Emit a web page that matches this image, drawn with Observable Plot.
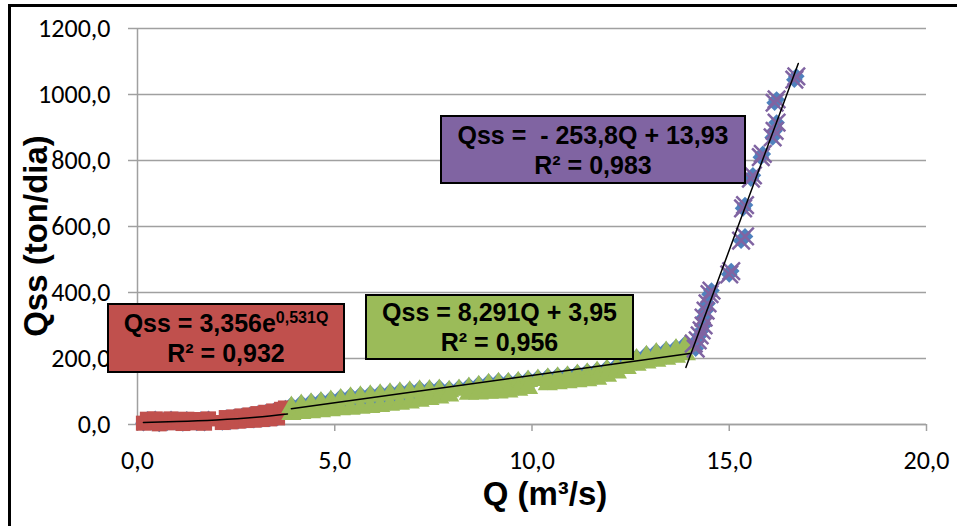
<!DOCTYPE html>
<html>
<head>
<meta charset="utf-8">
<script src="https://cdn.jsdelivr.net/npm/d3@7"></script>
<script src="https://cdn.jsdelivr.net/npm/@observablehq/plot@0.6"></script>
<style>
  html, body { margin: 0; padding: 0; background: #fff; }
  #wrap { position: relative; width: 957px; height: 526px; overflow: hidden; font-family: "Liberation Sans", Arial, sans-serif; }
  #frame { position: absolute; left: 8px; top: 4px; width: 1000px; height: 600px; border: 3px solid #000; box-sizing: border-box; pointer-events: none; }
  .box { position: absolute; box-sizing: border-box; border: 2px solid #000; display: flex; flex-direction: column; justify-content: center; align-items: center; font-weight: bold; font-size: 25px; color: #000; font-family: "Liberation Sans", Arial, sans-serif; }
  .box div { line-height: 30px; white-space: nowrap; }
  .box sup { font-size: 16px; vertical-align: 9px; line-height: 0; }
  .title { position: absolute; font-weight: bold; font-family: "Liberation Sans", Arial, sans-serif; color: #000; white-space: nowrap; }
</style>
</head>
<body>
<div id="wrap"></div>
<script>
// ---- data ----
const xTicks = [0, 5, 10, 15, 20];
const yTicks = [0, 200, 400, 600, 800, 1000, 1200];

// red squares (low-flow segment)
const redQ   = [0.15,0.25,0.35,0.45,0.55,0.65,0.75,0.85,0.95,1.05,1.15,1.25, 1.5,1.6,1.7,1.8, 2.15,2.25,2.35,2.45,2.55,2.65,2.75,2.85,2.95,3.05,3.15,3.25,3.35,3.45,3.55,3.65,3.75];
const redQss = [4,16,6,17,2,13,5,17,7,14,3,16, 5,15,4,17, 6,21,8,23,10,26,12,29,13,33,15,37,17,41,20,46,50];

// green triangles (middle segment) – upper and lower edge of the band
const greenQ = [
  3.9,4.15,4.4,4.65,4.9,5.15,5.4,5.65,5.9,6.15,6.4,6.65,6.9,7.15,7.4,7.65,7.9,8.15,8.4,8.65,8.9,9.15,9.4,9.65,9.9,10.15,10.4,10.65,10.9,11.15,11.4,11.65,11.9,12.15,12.4,12.65,12.9,13.15,13.4,13.65,13.9,
  3.9,4.15,4.4,4.65,4.9,5.15,5.4,5.65,5.9,6.15,6.4,6.65,6.9,7.15,7.4,7.65,7.9,8.4,8.65,8.9,9.15,9.4,9.65,9.9,10.4,10.65,10.9,11.15,11.4,11.65,11.9,12.15,12.4,12.65,12.9,13.15,13.4,13.65,13.9
];
const greenQss = [
  60,66,70,74,78,83,88,91,94,97,100,103,106,109,110,112,108,112,118,123,129,132,132,135,139,142,146,149,152,157,161,166,172,180,192,204,214,222,227,234,247,
  39,42,44,47,50,53,55,58,60,63,67,70,74,79,84,89,95,100,101,103,104,107,112,118,129,132,135,138,141,146,155,165,178,188,195,200,206,212,220
];

// purple crosses (high-flow segment)
const purpleQ   = [14.1,14.15,14.2,14.25,14.3,14.35,14.35,14.4,14.45,14.5,14.55,15.0,15.05,15.3,15.4,15.35,15.4,15.55,15.6,15.8,15.85,16.1,16.15,16.2,16.15,16.2,16.65,16.7];
const purpleQss = [245,230,255,270,285,300,324,345,367,395,406,455,465,557,570,655,665,745,755,810,820,870,890,915,975,985,1045,1055];

// trend lines (as drawn)
const trendRedQ = [0.15, 1, 2, 3, 3.8];
const trendRedQss = [6, 9, 14, 22, 32];
const trendGreenQ = [3.9, 14.0];
const trendGreenQss = [48, 215];
const trendPurpleQ = [13.9, 16.75];
const trendPurpleQss = [173, 1094];

// ---- build tables ----
const zip = (xs, ys) => xs.map((x, i) => ({Q: x, Qss: ys[i]}));
const red = zip(redQ, redQss);
const green = zip(greenQ, greenQss);
const purple = zip(purpleQ, purpleQss);
const all = [...red, ...green, ...purple];
const tRed = zip(trendRedQ, trendRedQss);
const tGreen = zip(trendGreenQ, trendGreenQss);
const tPurple = zip(trendPurpleQ, trendPurpleQss);

const fmt = d => d.toFixed(1).replace(".", ",");

const chart = Plot.plot({
  width: 957,
  height: 526,
  marginLeft: 137,
  marginRight: 31,
  marginTop: 28,
  marginBottom: 102,
  style: {fontFamily: "Carlito, 'Liberation Sans', Arial, sans-serif", fontSize: "26px", color: "#000", background: "transparent"},
  x: {domain: [0, 20]},
  y: {domain: [0, 1200]},
  marks: [
    Plot.gridY(yTicks, {stroke: "#a0a0a0", strokeOpacity: 1, strokeWidth: 1.5}),
    Plot.ruleX([0], {stroke: "#a0a0a0", strokeWidth: 1.5}),
    Plot.ruleY([0], {stroke: "#a0a0a0", strokeWidth: 1.5}),
    Plot.axisY({ticks: yTicks, tickFormat: fmt, tickSize: 9, tickPadding: 18, stroke: "#a0a0a0", strokeWidth: 1.5, label: null, fill: "#000"}),
    Plot.axisX({ticks: xTicks, tickFormat: fmt, tickSize: 7, tickPadding: 19, stroke: "#a0a0a0", strokeWidth: 1.5, label: null, fill: "#000"}),
    Plot.dot(all, {x: "Q", y: "Qss", symbol: "diamond2", r: 7.5, fill: "#4f81bd", stroke: "none"}),
    Plot.dot(red, {x: "Q", y: "Qss", symbol: "square", r: 8.5, fill: "#c0504d", stroke: "none"}),
    Plot.dot(green, {x: "Q", y: "Qss", symbol: "triangle", r: 7.5, dy: 2.5, fill: "#9bbb59", stroke: "none"}),
    Plot.dot(purple, {x: "Q", y: "Qss", symbol: "times", r: 8, fill: "none", stroke: "#8064a2", strokeWidth: 2.5}),
    Plot.line(tRed, {x: "Q", y: "Qss", stroke: "#000", strokeWidth: 1.5, curve: "natural"}),
    Plot.line(tGreen, {x: "Q", y: "Qss", stroke: "#000", strokeWidth: 1.5}),
    Plot.line(tPurple, {x: "Q", y: "Qss", stroke: "#000", strokeWidth: 1.5})
  ]
});

const wrap = document.getElementById("wrap");
chart.style.position = "absolute";
chart.style.left = "0px";
chart.style.top = "0px";
wrap.appendChild(chart);

wrap.insertAdjacentHTML("beforeend", `
  <div class="box" style="left:107px; top:303px; width:238px; height:70px; background:#c0504d;">
    <div>Qss = 3,356e<sup>0,531Q</sup></div><div>R² = 0,932</div>
  </div>
  <div class="box" style="left:365px; top:294px; width:269px; height:66px; background:#9bbb59;">
    <div>Qss = 8,291Q + 3,95</div><div>R² = 0,956</div>
  </div>
  <div class="box" style="left:440px; top:115px; width:306px; height:69px; background:#8064a2;">
    <div>Qss =&nbsp; - 253,8Q + 13,93</div><div>R² = 0,983</div>
  </div>
  <div class="title" style="left:36px; top:236px; font-size:33px; transform: translate(-50%, -50%) rotate(-90deg);">Qss (ton/dia)</div>
  <div class="title" style="left:545px; top:494px; font-size:33px; transform: translate(-50%, -50%);">Q (m³/s)</div>
  <div id="frame"></div>
`);
</script>
</body>
</html>
